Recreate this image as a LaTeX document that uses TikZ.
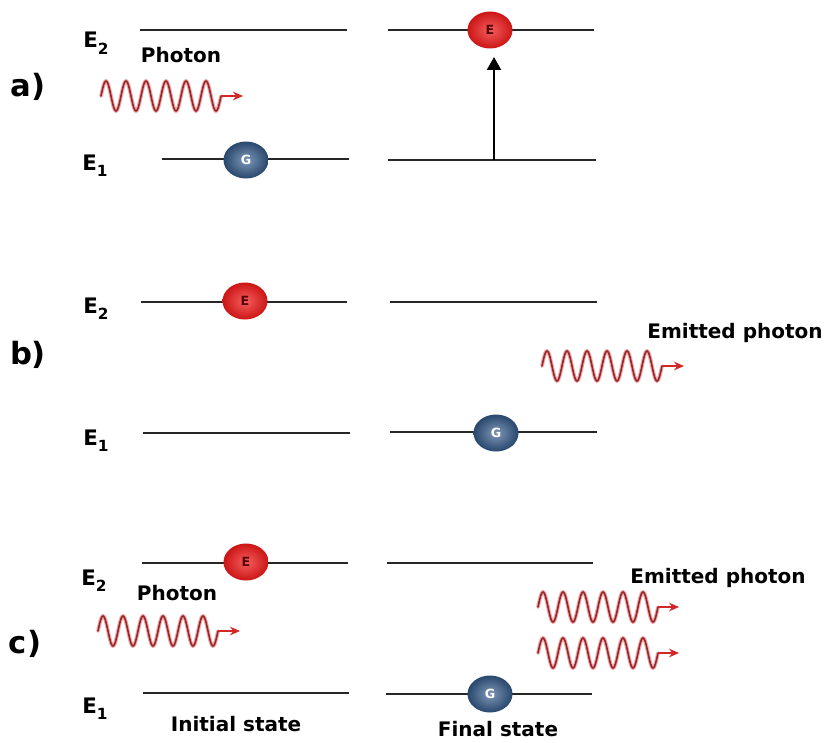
\documentclass[tikz,border=0pt]{standalone}
\usepackage{fontspec}
\setmainfont{DejaVu Sans}
\usetikzlibrary{shapes.geometric,arrows.meta}
\definecolor{wavedark}{RGB}{150,40,45}
\definecolor{waveglowc}{RGB}{240,170,170}
\definecolor{arrred}{RGB}{210,40,40}
\definecolor{gblue}{RGB}{55,95,145}
\definecolor{eball}{RGB}{240,25,25}
\newcommand\pwave[4]{%
  \draw[waveglow] plot[domain=0:6,samples=145,smooth] ({#2+20*\x},{#3-15*sin(360*\x)});
  \draw[wavecore] plot[domain=0:6,samples=145,smooth] ({#2+20*\x},{#3-15*sin(360*\x)});
  \coordinate (#1s) at ({#2+120},#3);
  \coordinate (#1t) at (#4,#3);
  \draw[photarrow] (#1s) -- (#1t);
}
\newcommand\elabel[4]{%
  \node[elbl, anchor=base west] (#1) at (#2,#3) {E\raisebox{-5pt}{\fontsize{11.5}{12}\selectfont #4}};
}
\tikzset{
  lvl/.style={line width=2.2pt, black!85},
  lbl/.style={font=\bfseries\fontsize{15}{18}\selectfont, inner sep=0},
  elbl/.style={font=\bfseries\fontsize{16}{18}\selectfont, inner sep=0},
  part/.style={font=\bfseries\fontsize{23}{26}\selectfont, inner sep=0},
  redball/.style={ellipse, minimum width=33.75pt, minimum height=27.75pt, inner sep=0, inner color=eball!70!white, outer color=eball!85!black, text=red!35!black, font=\bfseries\fontsize{9.5}{10}\selectfont},
  blueball/.style={ellipse, minimum width=33.75pt, minimum height=27.75pt, inner sep=0, inner color=gblue!65!white, outer color=gblue!75!black, text=white, font=\bfseries\fontsize{9.5}{10}\selectfont},
  waveglow/.style={line width=2.8pt, waveglowc, line cap=round},
  wavecore/.style={line width=1.2pt, wavedark, line cap=round},
  photarrow/.style={line width=1.2pt, arrred, -{Stealth[length=7.5pt,width=6.5pt]}},
  uparrow/.style={line width=1.6pt, black, -{Triangle[length=9.75pt,width=10.5pt]}},
}
\begin{document}
\begin{tikzpicture}[x=0.75pt,y=-0.75pt]
\useasboundingbox (0,0) rectangle (827,742);
\fill[white] (0,0) rectangle (827,742);

% ---------- a) ----------
\node[part] (pa) at (28,87) {a)};
\elabel{aE2}{83}{48}{2}
\elabel{aE1}{82}{170}{1}
\draw[lvl] (140,30) -- (347,30);
\draw[lvl] (388,30) -- (594,30);
\draw[lvl] (162,159) -- (349,159);
\draw[lvl] (388,160) -- (596,160);
\node[lbl] (aph) at (181,55) {Photon};
\pwave{wa}{101}{96}{243}
\node[blueball] (aG) at (246,160) {G};
\node[redball] (aE) at (490,30) {E};
\coordinate (abase) at (494,160);
\coordinate (atip) at (494,57);
\draw[uparrow] (abase) -- (atip);

% ---------- b) ----------
\node[part] (pb) at (28,355) {b)};
\elabel{bE2}{83}{313}{2}
\elabel{bE1}{83}{445}{1}
\draw[lvl] (141,302) -- (347,302);
\draw[lvl] (390,302) -- (597,302);
\draw[lvl] (143,433) -- (350,433);
\draw[lvl] (390,432) -- (597,432);
\node[redball] (bE) at (245,301) {E};
\node[blueball] (bG) at (496,433) {G};
\node[lbl] (bem) at (735,333) {Emitted photon};
\pwave{wb}{542}{366}{684}

% ---------- c) ----------
\node[part] (pc) at (25,644) {c)};
\elabel{cE2}{81}{585}{2}
\elabel{cE1}{82}{713}{1}
\draw[lvl] (142,563) -- (348,563);
\draw[lvl] (387,563) -- (593,563);
\draw[lvl] (143,693) -- (349,693);
\draw[lvl] (386,694) -- (592,694);
\node[redball] (cE) at (246,562) {E};
\node[blueball] (cG) at (490,694) {G};
\node[lbl] (cph) at (177,593) {Photon};
\pwave{wc}{98}{631}{240}
\node[lbl] (cem) at (718,578) {Emitted photon};
\pwave{wd}{538}{607}{679}
\pwave{we}{538}{653}{679}
\node[lbl] (ini) at (236,724) {Initial state};
\node[lbl] (fin) at (498,729) {Final state};
\end{tikzpicture}
\end{document}
